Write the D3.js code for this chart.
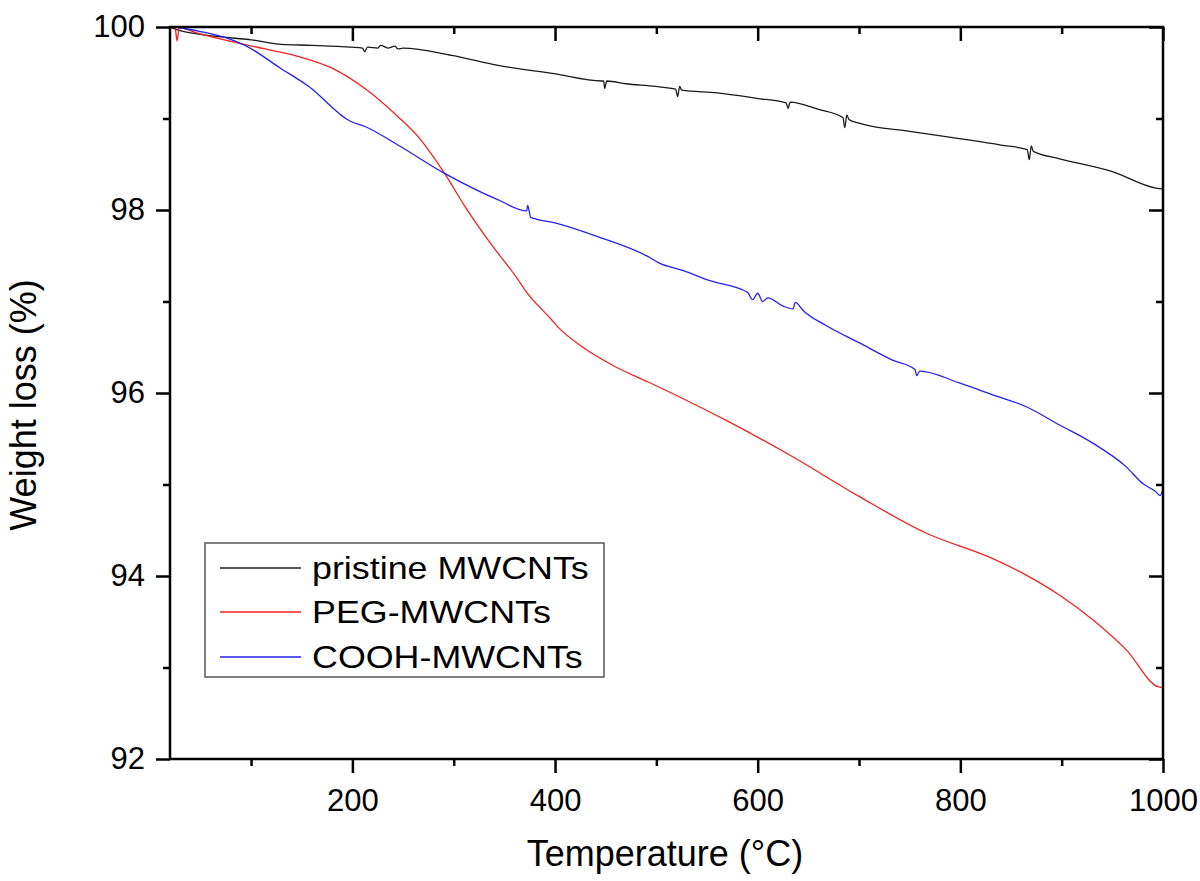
<!DOCTYPE html>
<html><head><meta charset="utf-8">
<script src="https://cdn.jsdelivr.net/npm/d3@7"></script>
<style>body{margin:0;background:#fff}svg{display:block;font-family:"Liberation Sans",Arial,sans-serif}</style>
</head><body><svg id="c" width="1200" height="881"></svg>
<script>
// ---- data ----
const seriesNames = ["pristine MWCNTs", "PEG-MWCNTs", "COOH-MWCNTs"];
const seriesColors = ["#1a1a1a", "#ee2222", "#2222ee"];

const pristineT = [20,30,50,81,100,130,160,199,210,212,215,225,228,235,242,245,250,298,344,399,446,448,449,451,470,499,519,521,523,525,560,599,628,630,632,660,684,686,688,690,700,750,799,840,866,868,870,872,898,950,993,1000];
const pristineW = [100.0,99.96,99.92,99.88,99.86,99.81,99.80,99.78,99.77,99.73,99.78,99.77,99.80,99.77,99.79,99.76,99.77,99.69,99.58,99.49,99.41,99.41,99.33,99.41,99.38,99.35,99.32,99.24,99.35,99.31,99.28,99.22,99.17,99.11,99.18,99.10,99.01,98.90,99.04,98.99,98.95,98.86,98.78,98.71,98.66,98.55,98.70,98.64,98.56,98.42,98.24,98.23];

const pegT = [20,25,27,29,48,81,114,146,180,212,245,265,291,311,334,364,370,395,403,426,459,492,526,569,635,700,766,832,865,898,931,964,995,1000];
const pegW = [100.0,99.99,99.85,99.99,99.93,99.84,99.76,99.68,99.55,99.33,99.02,98.80,98.40,98.04,97.67,97.23,97.13,96.82,96.72,96.51,96.29,96.12,95.94,95.70,95.30,94.87,94.47,94.19,94.01,93.79,93.52,93.19,92.79,92.78];

const coohT = [25,50,81,94,129,157,198,213,245,291,344,372,373,376,400,442,492,503,526,552,590,595,600,605,610,625,635,637,645,667,700,733,755,757,760,799,832,865,898,931,964,980,993,997,1000];
const coohW = [100.0,99.95,99.86,99.80,99.55,99.35,98.97,98.91,98.71,98.40,98.11,97.99,98.05,97.92,97.86,97.71,97.49,97.42,97.34,97.23,97.10,97.02,97.09,97.00,97.04,96.95,96.92,96.99,96.90,96.74,96.55,96.36,96.26,96.19,96.24,96.11,95.98,95.85,95.65,95.45,95.19,95.01,94.92,94.88,94.95];

const xMajorTicks = [200,400,600,800,1000];
const xMinorTicks = [100,300,500,700,900];
const yMajorTicks = [92,94,96,98,100];
const yMinorTicks = [93,95,97,99];
const xTitle = "Temperature (°C)";
const yTitle = "Weight loss (%)";

// ---- layout ----
const L = 170, R = 1163, T = 27, B = 759;
const svg = d3.select("#c");
const x = d3.scaleLinear().domain([20, 1000]).range([L, R]);
const y = d3.scaleLinear().domain([92, 100]).range([B, T]);

const tickFont = 31;
function styleAxis(g){
  g.select(".domain").remove();
  g.selectAll("line").attr("stroke","#000").attr("stroke-width",2.5);
  g.selectAll("text").attr("fill","#000").style("font-size",tickFont+"px").style("font-family",'"Liberation Sans",Arial,sans-serif');
}
// bottom
svg.append("g").attr("transform",`translate(0,${B})`)
  .call(d3.axisBottom(x).tickValues(xMajorTicks).tickSize(14).tickPadding(16).tickFormat(d3.format("d"))).call(styleAxis);
svg.append("g").attr("transform",`translate(0,${B})`)
  .call(d3.axisBottom(x).tickValues(xMinorTicks).tickSize(7).tickFormat("")).call(styleAxis);
// top (inward)
svg.append("g").attr("transform",`translate(0,${T})`)
  .call(d3.axisBottom(x).tickValues(xMajorTicks).tickSize(14).tickFormat("")).call(styleAxis);
svg.append("g").attr("transform",`translate(0,${T})`)
  .call(d3.axisBottom(x).tickValues(xMinorTicks).tickSize(7).tickFormat("")).call(styleAxis);
// left
svg.append("g").attr("transform",`translate(${L},0)`)
  .call(d3.axisLeft(y).tickValues(yMajorTicks).tickSize(14).tickPadding(11).tickFormat(d3.format("d"))).call(styleAxis);
svg.append("g").attr("transform",`translate(${L},0)`)
  .call(d3.axisLeft(y).tickValues(yMinorTicks).tickSize(7).tickFormat("")).call(styleAxis);
// right (inward)
svg.append("g").attr("transform",`translate(${R},0)`)
  .call(d3.axisLeft(y).tickValues(yMajorTicks).tickSize(14).tickFormat("")).call(styleAxis);
svg.append("g").attr("transform",`translate(${R},0)`)
  .call(d3.axisLeft(y).tickValues(yMinorTicks).tickSize(7).tickFormat("")).call(styleAxis);

// clip for curves
svg.append("clipPath").attr("id","pa").append("rect").attr("x",L).attr("y",T-3).attr("width",R-L).attr("height",B-T+3);

const line = d3.line().curve(d3.curveMonotoneX).x(d=>x(d[0])).y(d=>y(d[1]));
const data = [
  d3.zip(pristineT, pristineW),
  d3.zip(pegT, pegW),
  d3.zip(coohT, coohW)
];
const gl = svg.append("g").attr("clip-path","url(#pa)");
data.forEach((d,i)=>{
  gl.append("path").datum(d).attr("d",line).attr("fill","none")
    .attr("stroke",seriesColors[i]).attr("stroke-width",1.3).attr("stroke-linejoin","round");
});

// frame
svg.append("rect").attr("x",L).attr("y",T).attr("width",R-L).attr("height",B-T)
  .attr("fill","none").attr("stroke","#000").attr("stroke-width",2.5);

// legend
const lg = svg.append("g");
lg.append("rect").attr("x",205).attr("y",543).attr("width",399).attr("height",134)
  .attr("fill","#fff").attr("stroke","#555").attr("stroke-width",1.5);
const rowY = [568, 612, 657];
seriesNames.forEach((n,i)=>{
  lg.append("line").attr("x1",220).attr("x2",301).attr("y1",rowY[i]).attr("y2",rowY[i])
    .attr("stroke",seriesColors[i]).attr("stroke-width",1.3);
  lg.append("text").attr("transform",`translate(312,${rowY[i]+11}) scale(1.12,1)`)
    .style("font-size","32px").attr("fill","#000").text(n);
});

// titles
svg.append("text").attr("x",665).attr("y",866).attr("text-anchor","middle")
  .style("font-size","36px").attr("fill","#000").text(xTitle);
svg.append("text").attr("transform","translate(36,405) rotate(-90)").attr("text-anchor","middle")
  .style("font-size","36px").attr("fill","#000").text(yTitle);
</script></body></html>
